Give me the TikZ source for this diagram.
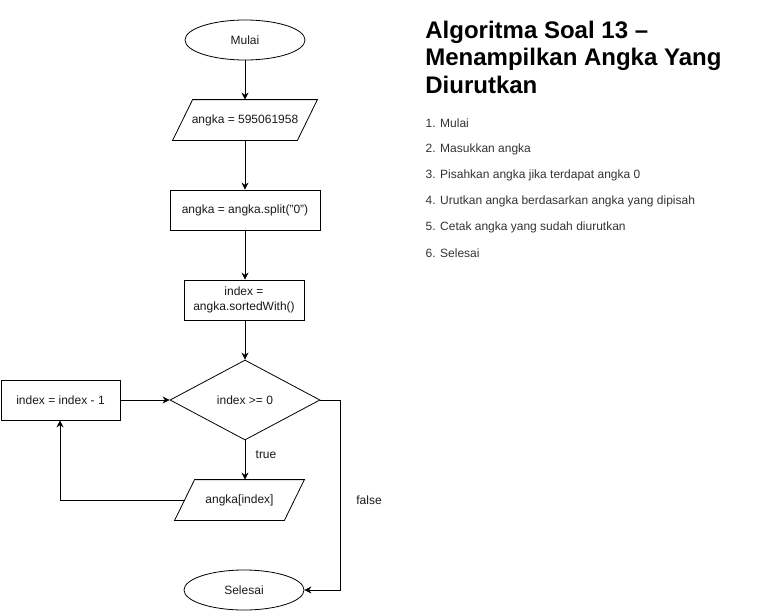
\documentclass[tikz,border=0pt]{standalone}
\usepackage{fontspec}
\setmainfont{Liberation Sans}
\usetikzlibrary{shapes.geometric,arrows.meta}
\begin{document}
\begin{tikzpicture}[x=1pt,y=-1pt,
  every node/.style={font=\fontsize{12}{14}\selectfont, text=black!90},
  term/.style={ellipse, draw, minimum width=120pt, minimum height=40pt, inner sep=0pt},
  proc/.style={rectangle, draw, minimum height=40pt, inner sep=1pt, align=center},
  iobox/.style={rectangle, minimum height=40pt, inner sep=0pt},
  dec/.style={diamond, draw, minimum width=150pt, minimum height=80pt, inner sep=0pt, aspect=1.875},
  flow/.style={draw, line width=0.8pt, -{Stealth[length=7pt,width=7pt]}},
  lst/.style={anchor=west, font=\fontsize{12}{14}\selectfont, text=black!80},
  ttl/.style={anchor=base west, inner sep=0pt, font=\bfseries\fontsize{24}{28}\selectfont, text=black},
  line width=0.8pt]
\useasboundingbox (0,0) rectangle (771,611);
% nodes
\node[term] (mulai) at (245,40) {Mulai};
\node[iobox, minimum width=124pt] (input) at (245,120) {angka = 595061958};
\draw ([xshift=-10pt]input.south west) -- ([xshift=10pt]input.north west) -- ([xshift=10pt]input.north east) -- ([xshift=-10pt]input.south east) -- cycle;
\node[proc, minimum width=150pt] (split) at (245,210) {angka = angka.split("0")};
\node[proc, minimum width=120pt, font=\fontsize{12}{15}\selectfont] (sort) at (244,300) {index =\\angka.sortedWith()};
\node[dec] (cond) at (245,400) {index >= 0};
\node[proc, minimum width=119pt] (dec1) at (60.5,400) {index = index - 1};
\node[iobox, minimum width=109pt] (out) at (239.5,500) {angka[index]};
\draw ([xshift=-10pt]out.south west) -- ([xshift=10pt]out.north west) -- ([xshift=10pt]out.north east) -- ([xshift=-10pt]out.south east) -- cycle;
\node[term] (selesai) at (244,590) {Selesai};
\coordinate (fr) at (340,400);
\coordinate (lp) at (60,500);
% connectors
\draw[flow] (mulai) -- (input.north -| mulai);
\draw[flow] (input) -- (split);
\draw[flow] (split) -- (sort.north -| split);
\draw[flow] (sort.south -| cond) -- (cond);
\draw[flow] (dec1) -- (cond);
\draw[flow] (cond) -- (cond.south |- out.north);
\node (truelbl) at (266,455) {true};
\draw[flow] (out.west) -- (lp) -- (dec1.south -| lp);
\draw[flow] (cond.east) -- (fr) -- (fr |- selesai) -- (selesai.east);
\node (falselbl) at (369,500) {false};
% text
\node[ttl] (t1) at (425,38) {Algoritma Soal 13 --};
\node[ttl] (t2) at (425,65.5) {Menampilkan Angka Yang};
\node[ttl] (t3) at (425,93) {Diurutkan};
\node[lst] (l1) at (422,123) {1. Mulai};
\node[lst] (l2) at (422,149) {2. Masukkan angka};
\node[lst] (l3) at (422,175) {3. Pisahkan angka jika terdapat angka 0};
\node[lst] (l4) at (422,201) {4. Urutkan angka berdasarkan angka yang dipisah};
\node[lst] (l5) at (422,227) {5. Cetak angka yang sudah diurutkan};
\node[lst] (l6) at (422,253) {6. Selesai};
\end{tikzpicture}
\end{document}
